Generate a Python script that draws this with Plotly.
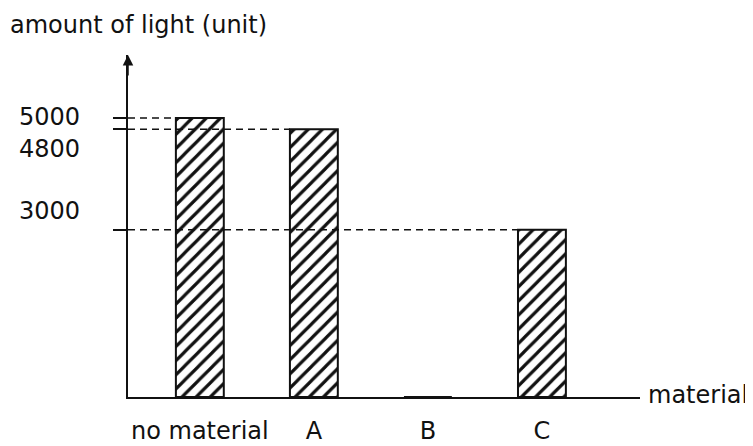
import plotly.graph_objects as go

# data
materials = ["no material", "A", "B", "C"]
light = [5000, 4800, 0, 3000]
tick_values = [5000, 4800, 3000]
tick_labels = ["5000", "4800", "3000"]

Y_MAX = 6130
BAR_W = 0.42
FONT = "DejaVu Sans"
INK = "#111111"

fig = go.Figure()

fig.add_trace(
    go.Bar(
        x=list(range(len(materials))),
        y=light,
        width=BAR_W,
        marker=dict(
            color=INK,
            line=dict(color=INK, width=2),
            pattern=dict(shape="/", size=10, solidity=0.32,
                         fgcolor=INK, bgcolor="rgba(0,0,0,0)", fillmode="replace"),
        ),
        showlegend=False,
    )
)

# dashed guide lines from the axis to the left edge of each bar
shapes = []
for i, v in enumerate(light):
    if v <= 0:
        continue
    shapes.append(dict(
        type="line", xref="x", yref="y",
        x0=-0.63, x1=i - BAR_W / 2, y0=v, y1=v,
        line=dict(color=INK, width=1.5, dash="7px,5px"),
        layer="above",
    ))

# tick labels, nudged apart so 5000 / 4800 do not collide
label_shift = {"5000": 1, "4800": -20, "3000": 19}
annotations = []
for v, t in zip(tick_values, tick_labels):
    annotations.append(dict(
        x=-0.09, xref="paper", y=v, yref="y", text=t, showarrow=False,
        xanchor="right", yanchor="middle", yshift=label_shift[t],
        font=dict(family=FONT, size=24, color=INK),
    ))

# arrow head on the y axis
annotations.append(dict(
    x=0, xref="paper", y=1, yref="paper", text="", showarrow=True,
    ax=0, ay=22, arrowhead=2, arrowsize=1.4, arrowwidth=1.5,
    arrowcolor=INK, standoff=0,
))

# x axis title, in line with the end of the axis
annotations.append(dict(
    x=1.012, xref="paper", y=0, yref="paper", text="material", showarrow=False,
    xanchor="left", yanchor="middle", yshift=2,
    font=dict(family=FONT, size=24, color=INK),
))

# page body adds an 8px margin, so the figure is 8px smaller than the window
fig.update_layout(
    width=745,
    height=438,
    margin=dict(l=120, r=113, t=47, b=49),
    paper_bgcolor="white",
    plot_bgcolor="white",
    title=dict(
        text="amount of light (unit)",
        x=2 / 745, xanchor="left", xref="container",
        y=1 - 17 / 438, yanchor="middle", yref="container",
        font=dict(family=FONT, size=24, color=INK),
    ),
    shapes=shapes,
    annotations=annotations,
)

fig.update_xaxes(
    range=[-0.63, 3.86],
    tickmode="array",
    tickvals=list(range(len(materials))),
    ticktext=materials,
    showline=True, linecolor=INK, linewidth=1.5,
    showgrid=False, zeroline=False, ticks="",
    ticklabelstandoff=11, automargin=False,
    tickfont=dict(family=FONT, size=24, color=INK),
)

fig.update_yaxes(
    range=[0, Y_MAX],
    tickmode="array",
    tickvals=tick_values,
    showticklabels=False,
    ticks="outside", ticklen=13, tickwidth=1.5, tickcolor=INK,
    showline=True, linecolor=INK, linewidth=1.5,
    showgrid=False, zeroline=False, automargin=False,
)

fig.write_html("out.html")
